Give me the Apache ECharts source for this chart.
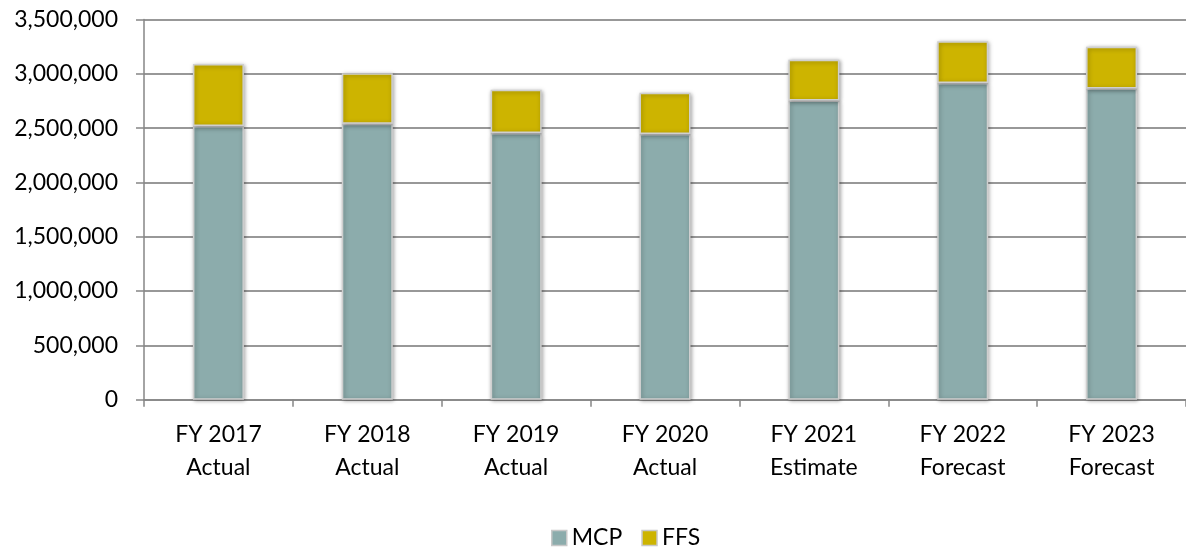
<!DOCTYPE html>
<html>
<head>
<meta charset="utf-8">
<script src="https://cdn.jsdelivr.net/npm/echarts@6/dist/echarts.min.js"></script>
<style>
html,body{margin:0;padding:0;background:#fff;}
#chart{width:1186px;height:550px;}
</style>
</head>
<body>
<div id="chart"></div>
<script>
const categories = ['FY 2017\nActual','FY 2018\nActual','FY 2019\nActual','FY 2020\nActual','FY 2021\nEstimate','FY 2022\nForecast','FY 2023\nForecast'];
const mcpValues = [2520000, 2540000, 2455000, 2445000, 2755000, 2915000, 2865000];
const ffsValues = [570000, 465000, 398000, 380000, 375000, 385000, 385000];
const seriesNames = ['MCP','FFS'];
const yMin = 0, yMax = 3500000, yInterval = 500000;

const chart = echarts.init(document.getElementById('chart'), null, {renderer:'canvas'});
const FONT = 'Lato';
const barStyle = (c) => ({
  color: c,
  borderColor: '#cfcfcf',
  borderWidth: 1.5,
  shadowBlur: 4,
  shadowColor: 'rgba(0,0,0,0.35)',
  shadowOffsetX: 1,
  shadowOffsetY: 1
});
chart.setOption({
  animation:false,
  grid:{left:144, right:-8, top:19.5, bottom:150.3, containLabel:false},
  legend:{
    data:seriesNames,
    left:551, top:524, padding:0,
    itemWidth:15, itemHeight:15, itemGap:19,
    textStyle:{fontFamily:FONT, fontSize:23, color:'#000', lineHeight:28},
    icon:'rect',
    itemStyle:{borderColor:'#c8c8c8', borderWidth:1.5}
  },
  xAxis:{
    type:'category',
    data:categories,
    axisLine:{lineStyle:{color:'#868686', width:1.5}},
    axisTick:{show:true, length:7, lineStyle:{color:'#868686', width:1.5}},
    axisLabel:{fontFamily:FONT, fontSize:23, color:'#000', lineHeight:33, margin:18, interval:0}
  },
  yAxis:{
    type:'value',
    min:yMin, max:yMax, interval:yInterval,
    axisLine:{show:true, lineStyle:{color:'#868686', width:1.5}},
    axisTick:{show:true, length:8, lineStyle:{color:'#868686', width:1.5}},
    splitLine:{lineStyle:{color:'#767676', width:1.5}},
    axisLabel:{fontFamily:FONT, fontSize:23, color:'#000', margin:26,
      formatter:(v)=>v.toLocaleString('en-US')}
  },
  series:[
    {name:seriesNames[0], type:'bar', stack:'a', data:mcpValues, barWidth:51, itemStyle:barStyle('#8cacac')},
    {name:seriesNames[1], type:'bar', stack:'a', data:ffsValues, barWidth:51, itemStyle:barStyle('#cdb400')}
  ]
});
</script>
</body>
</html>
